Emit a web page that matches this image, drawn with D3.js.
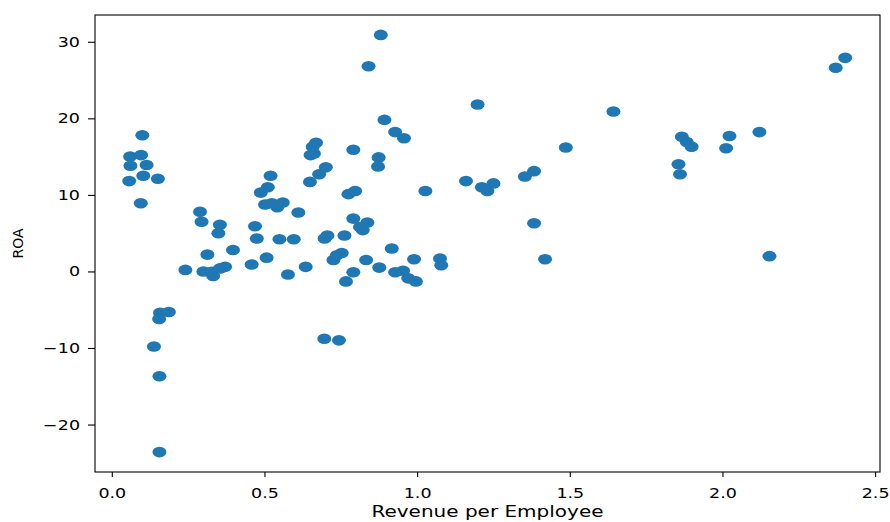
<!DOCTYPE html>
<html>
<head>
    <script type="text/javascript" src="https://cdn.jsdelivr.net/npm/d3@7"></script>
    <style>
        body { margin: 0; background: #fff; }
        text { font-family: "DejaVu Sans", sans-serif; fill: #000; }
    </style>
</head>

<body>
    <div id="viz"></div>
    <script type="text/javascript">

    // revenue per employee (x) and ROA (y)
    var revenue = [
        0.100, 0.060, 0.096, 0.061, 0.114, 0.103, 0.151, 0.057, 0.095,
        0.289, 0.294, 0.354, 0.349, 0.469, 0.475,
        0.520, 0.511, 0.488, 0.502, 0.524, 0.542, 0.560, 0.611,
        0.549, 0.596, 0.697, 0.706, 0.762,
        0.649, 0.679, 0.701, 0.651, 0.662, 0.658, 0.669,
        0.791, 0.775, 0.797, 0.791, 0.813, 0.837, 0.822,
        0.881, 0.841, 0.893, 0.874, 0.872, 0.928, 0.957,
        1.198, 1.487, 1.027, 1.160, 1.212, 1.230, 1.250, 1.353, 1.383, 1.383,
        0.917, 0.726, 0.737, 0.753, 0.833, 0.876, 0.990, 0.928, 0.954, 0.971, 0.996,
        1.075, 1.079, 1.419, 0.577, 0.635, 0.791, 0.767, 0.696, 0.744,
        0.313, 0.397, 0.241, 0.300, 0.327, 0.332, 0.354, 0.371, 0.458, 0.507,
        0.158, 0.187, 0.155, 0.138, 0.156, 0.156,
        1.643, 1.867, 1.883, 1.899, 1.856, 1.861, 2.023, 2.012, 2.121,
        2.371, 2.402, 2.154
    ];
    var roa = [
        17.8, 15.0, 15.2, 13.8, 13.9, 12.5, 12.1, 11.8, 8.9,
        7.8, 6.5, 6.1, 5.0, 5.9, 4.3,
        12.5, 11.0, 10.3, 8.75, 8.9, 8.4, 9.0, 7.7,
        4.2, 4.2, 4.3, 4.7, 4.7,
        11.7, 12.7, 13.6, 15.2, 15.4, 16.3, 16.8,
        15.9, 10.1, 10.5, 6.9, 5.8, 6.4, 5.4,
        30.9, 26.8, 19.8, 14.9, 13.7, 18.2, 17.4,
        21.8, 16.2, 10.5, 11.8, 11.0, 10.5, 11.5, 12.4, 13.1, 6.3,
        3.0, 1.5, 2.1, 2.4, 1.5, 0.5, 1.6, -0.1, 0.1, -0.9, -1.3,
        1.7, 0.8, 1.6, -0.4, 0.6, -0.1, -1.3, -8.8, -9.0,
        2.2, 2.8, 0.2, 0.0, -0.05, -0.6, 0.4, 0.6, 0.9, 1.8,
        -5.4, -5.3, -6.2, -9.8, -13.7, -23.6,
        20.9, 17.6, 16.9, 16.3, 14.0, 12.7, 17.7, 16.1, 18.2,
        26.6, 27.9, 2.0
    ];
    var xTicks = [0.0, 0.5, 1.0, 1.5, 2.0, 2.5];
    var yTicks = [-20, -10, 0, 10, 20, 30];

    var width = 890, height = 522;
    var plotLeft = 95, plotRight = 880, plotTop = 15, plotBottom = 472;

    var svg = d3.select("#viz")
        .append("svg")
        .attr("width", width)
        .attr("height", height);

    var x = d3.scaleLinear().domain([-0.055, 2.516]).range([plotLeft, plotRight]);
    var y = d3.scaleLinear().domain([-26.2, 33.5]).range([plotBottom, plotTop]);

    var points = revenue.map(function(d, i){ return {x: d, y: roa[i]}; });

    svg.selectAll("ellipse")
        .data(points)
        .enter().append("ellipse")
        .attr("cx", function(d){ return x(d.x); })
        .attr("cy", function(d){ return y(d.y); })
        .attr("rx", 7)
        .attr("ry", 5.3)
        .style("fill", "#1f77b4");

    // axes, text stretched sideways like the source picture
    var xAxis = svg.append("g")
        .attr("transform", "translate(0," + plotBottom + ")")
        .call(d3.axisBottom(x).tickValues(xTicks).tickSize(5).tickPadding(4)
            .tickFormat(d3.format(".1f")));
    var yAxis = svg.append("g")
        .attr("transform", "translate(" + plotLeft + ",0)")
        .call(d3.axisLeft(y).tickValues(yTicks).tickSize(7).tickPadding(8)
            .tickFormat(function(d){ return d < 0 ? "\u2212" + Math.abs(d) : d; }));

    [xAxis, yAxis].forEach(function(a){
        a.select(".domain").remove();
        a.selectAll("line").attr("stroke", "#000").attr("stroke-width", 1.1);
        a.selectAll("text").style("font-size", "14px").attr("fill", "#000");
    });
    xAxis.selectAll(".tick text")
        .attr("dy", null).attr("y", 26)
        .attr("transform", "scale(1.25,1)");
    yAxis.selectAll(".tick text")
        .attr("transform", "translate(-15,0) scale(1.25,1) translate(15,0)");

    svg.append("rect")
        .attr("x", plotLeft).attr("y", plotTop)
        .attr("width", plotRight - plotLeft).attr("height", plotBottom - plotTop)
        .style("fill", "none")
        .style("stroke", "#000")
        .style("stroke-width", 1.1);

    svg.append("text")
        .attr("x", (plotLeft + plotRight) / 2)
        .attr("y", 517)
        .attr("text-anchor", "middle")
        .attr("textLength", 232)
        .attr("lengthAdjust", "spacingAndGlyphs")
        .style("font-size", "15px")
        .text("Revenue per Employee");

    svg.append("text")
        .attr("transform", "translate(23," + ((plotTop + plotBottom) / 2) + ") rotate(-90)")
        .attr("text-anchor", "middle")
        .style("font-size", "14px")
        .text("ROA");

    </script>
</body>
</html>
